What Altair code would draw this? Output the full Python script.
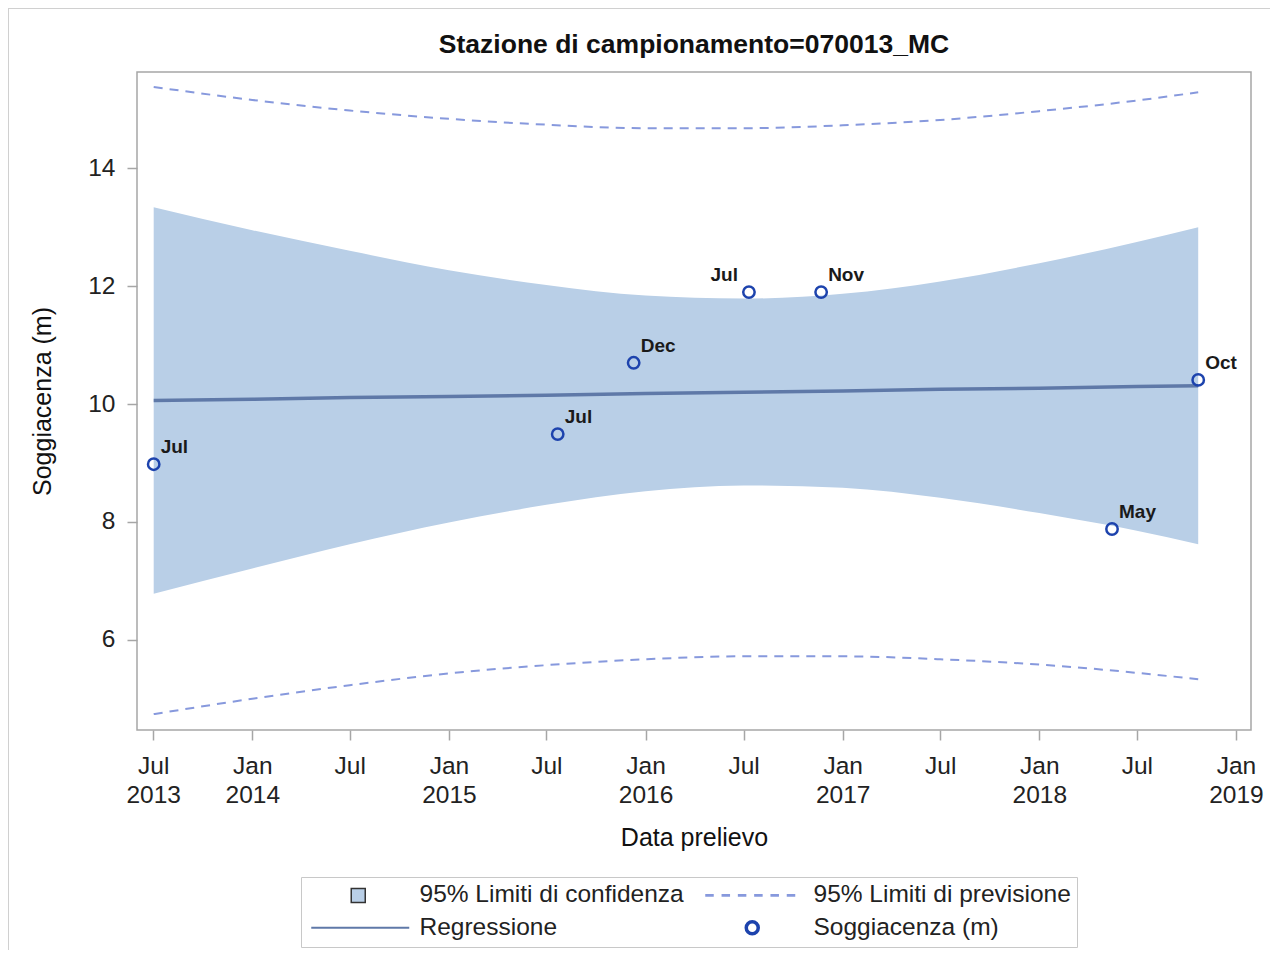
import json
import altair as alt
import pandas as pd

# ---------------- data ----------------
obs_dates = ["2013-07-02", "2015-07-22", "2015-12-10", "2016-07-11",
             "2016-11-22", "2018-05-16", "2018-10-23"]
obs_values = [8.98, 9.49, 10.70, 11.90, 11.90, 7.88, 10.41]
obs_labels = ["Jul", "Jul", "Dec", "Jul", "Nov", "May", "Oct"]
obs_label_side = ["right", "right", "right", "left", "right", "right", "right"]

band_dates = ["2013-07-02", "2014-01-01", "2014-07-01", "2015-01-01",
              "2015-07-01", "2016-01-01", "2016-07-01", "2017-01-01",
              "2017-07-01", "2018-01-01", "2018-07-01", "2018-10-23"]
reg_values = [10.06, 10.08, 10.11, 10.13, 10.15, 10.18, 10.20, 10.22,
              10.25, 10.27, 10.30, 10.31]
ci_low = [6.78, 7.21, 7.62, 7.99, 8.29, 8.52, 8.62, 8.58, 8.41, 8.15, 7.85, 7.62]
ci_high = [13.34, 12.95, 12.60, 12.27, 12.02, 11.84, 11.79, 11.87, 12.08,
           12.39, 12.75, 13.00]
pi_low = [4.74, 5.00, 5.23, 5.43, 5.57, 5.67, 5.72, 5.72, 5.67, 5.58, 5.44, 5.33]
pi_high = [15.38, 15.16, 14.98, 14.84, 14.74, 14.68, 14.68, 14.73, 14.82,
           14.97, 15.15, 15.29]

tick_dates = [(2013, 7), (2014, 1), (2014, 7), (2015, 1), (2015, 7), (2016, 1),
              (2016, 7), (2017, 1), (2017, 7), (2018, 1), (2018, 7), (2019, 1)]
tick_month = ["Jul", "Jan", "Jul", "Jan", "Jul", "Jan", "Jul", "Jan", "Jul",
              "Jan", "Jul", "Jan"]
tick_year = ["2013", "2014", "", "2015", "", "2016", "", "2017", "", "2018",
             "", "2019"]
y_ticks = [6, 8, 10, 12, 14]

# legend entries (filled column by column: CI / Regressione, then PI / points)
legend_names = ["95% Limiti di confidenza", "Regressione",
                "95% Limiti di previsione", "Soggiacenza (m)"]

# ---------------- styling ----------------
FONT = "Liberation Sans"
BAND = "#b9cfe7"
PRED = "#8799dd"
REG = "#5f79a8"
PT = "#1d43ad"
FRAME = "#a6a6a6"

obs = pd.DataFrame({"date": pd.to_datetime(obs_dates), "val": obs_values,
                    "lab": obs_labels, "side": obs_label_side})
band = pd.DataFrame({"date": pd.to_datetime(band_dates), "reg": reg_values,
                     "ci_lo": ci_low, "ci_hi": ci_high,
                     "pi_lo": pi_low, "pi_hi": pi_high})
leg = pd.DataFrame({"serie": legend_names})

keys = ["%04d-%02d" % d for d in tick_dates]
labels = [[m, y] if y else [m] for m, y in zip(tick_month, tick_year)]
label_expr = "%s[indexof(%s, timeFormat(datum.value, '%%Y-%%m'))]" % (
    json.dumps(labels), json.dumps(keys))

x_axis = alt.Axis(values=[alt.DateTime(year=y, month=m, date=1) for y, m in tick_dates],
                  labelExpr=label_expr, title="Data prelievo", grid=False,
                  domain=False, tickSize=10, tickColor=FRAME, tickWidth=1.5,
                  labelFontSize=24.5, labelFont=FONT, labelColor="#222",
                  labelPadding=14, labelLineHeight=29, labelFlush=False,
                  labelOverlap=False, labelAlign="center",
                  titleFontSize=25, titleFont=FONT, titleFontWeight="normal",
                  titleColor="#111", titlePadding=19)
x_scale = alt.Scale(domain=[alt.DateTime(year=2013, month=6, date=1),
                            alt.DateTime(year=2019, month=1, date=29)])
y_axis = alt.Axis(values=y_ticks, title="Soggiacenza (m)", grid=False,
                  domain=False, tickSize=10, tickColor=FRAME, tickWidth=1.5,
                  labelFontSize=24.5, labelFont=FONT, labelColor="#222",
                  labelPadding=12, titleFontSize=25, titleFont=FONT,
                  titleFontWeight="normal", titleColor="#111", titlePadding=32)
y_scale = alt.Scale(domain=[4.47, 15.634], nice=False, zero=False)


def X():
    return alt.X("date:T", scale=x_scale, axis=x_axis, title="Data prelievo")


def Y(f):
    return alt.Y(f + ":Q", scale=y_scale, axis=y_axis, title="Soggiacenza (m)")


ci = alt.Chart(band).mark_area(color=BAND, opacity=1, interpolate="monotone").encode(
    x=X(), y=Y("ci_lo"), y2="ci_hi:Q")
pi_hi_l = alt.Chart(band).mark_line(color=PRED, strokeWidth=2, strokeDash=[9, 7],
                                    interpolate="monotone").encode(x=X(), y=Y("pi_hi"))
pi_lo_l = alt.Chart(band).mark_line(color=PRED, strokeWidth=2, strokeDash=[9, 7],
                                    interpolate="monotone").encode(x=X(), y=Y("pi_lo"))
reg = alt.Chart(band).mark_line(color=REG, strokeWidth=3.5).encode(x=X(), y=Y("reg"))
pts = alt.Chart(obs).mark_point(shape="circle", filled=False, color=PT,
                                strokeWidth=2.5, size=130, opacity=1).encode(
    x=X(), y=Y("val"))
txt_r = alt.Chart(obs).transform_filter(alt.datum.side == "right").mark_text(
    align="left", baseline="alphabetic", dx=7, dy=-11, fontSize=19,
    fontWeight="bold", font=FONT, color="#1a1a1a").encode(x=X(), y=Y("val"), text="lab:N")
txt_l = alt.Chart(obs).transform_filter(alt.datum.side == "left").mark_text(
    align="right", baseline="alphabetic", dx=-11, dy=-11, fontSize=19,
    fontWeight="bold", font=FONT, color="#1a1a1a").encode(x=X(), y=Y("val"), text="lab:N")

# legend symbols (unit = 5 px with symbolSize 100), drawn to the right of the anchor
sq = "M7,-1.4H9.8V1.4H7Z"
dash = "".join("M%.2f,0H%.2f" % (s, s + 1.7) for s in
               [-1.0, 2.26, 5.52, 8.78, 12.04, 15.3])
line = "M-1,0H18.6"
circ = "M7.2,0A1.2,1.2,0,1,0,9.6,0A1.2,1.2,0,1,0,7.2,0Z"
shape_by_name = {"95% Limiti di confidenza": sq, "Regressione": line,
                 "95% Limiti di previsione": dash, "Soggiacenza (m)": circ}
fill_by_name = {"95% Limiti di confidenza": BAND, "Regressione": "transparent",
                "95% Limiti di previsione": "transparent", "Soggiacenza (m)": "white"}
stroke_by_name = {"95% Limiti di confidenza": "#333333", "Regressione": REG,
                  "95% Limiti di previsione": PRED, "Soggiacenza (m)": PT}
width_by_name = {"95% Limiti di confidenza": 1.5, "Regressione": 3.5,
                 "95% Limiti di previsione": 2, "Soggiacenza (m)": 2}

lg = alt.Legend(title=None, orient="none", legendX=164, legendY=805, columns=2,
                columnPadding=15, rowPadding=7.5, padding=6, strokeColor="#c8c8c8",
                fillColor="white", labelFontSize=24.5, labelFont=FONT,
                labelColor="#222", labelLimit=600, symbolSize=100, symbolOffset=-3,
                labelOffset=91, symbolOpacity=1)
legend_layer = alt.Chart(leg).mark_point(opacity=0).encode(
    fill=alt.Fill("serie:N", legend=lg, scale=alt.Scale(
        domain=legend_names, range=[fill_by_name[n] for n in legend_names])),
    stroke=alt.Stroke("serie:N", legend=lg, scale=alt.Scale(
        domain=legend_names, range=[stroke_by_name[n] for n in legend_names])),
    shape=alt.Shape("serie:N", legend=lg, scale=alt.Scale(
        domain=legend_names, range=[shape_by_name[n] for n in legend_names])),
    strokeWidth=alt.StrokeWidth("serie:N", legend=lg, scale=alt.Scale(
        domain=legend_names, range=[width_by_name[n] for n in legend_names])),
)

# light outer frame of the picture (top and left edges)
frame_df = pd.DataFrame({"k": [0]})
frame_top = alt.Chart(frame_df).mark_rule(color="#d0d0d0", strokeWidth=2).encode(
    x=alt.value(-129), x2=alt.value(1133), y=alt.value(-64))
frame_left = alt.Chart(frame_df).mark_rule(color="#d0d0d0", strokeWidth=2).encode(
    x=alt.value(-129), y=alt.value(-64), y2=alt.value(878))

chart = alt.layer(ci, pi_hi_l, pi_lo_l, reg, pts, txt_r, txt_l, legend_layer,
                  frame_top, frame_left).properties(
    width=1114, height=658,
    title=alt.TitleParams("Stazione di campionamento=070013_MC", fontSize=26.5,
                          fontWeight="bold", font=FONT, anchor="middle",
                          offset=-51, color="#111"),
    padding={"left": 129, "top": 64, "right": 19, "bottom": 220},
    autosize=alt.AutoSizeParams(type="none"),
).configure_view(stroke=FRAME, strokeWidth=1.5)

chart.save("out.html", embed_options={"renderer": "svg", "actions": False})
